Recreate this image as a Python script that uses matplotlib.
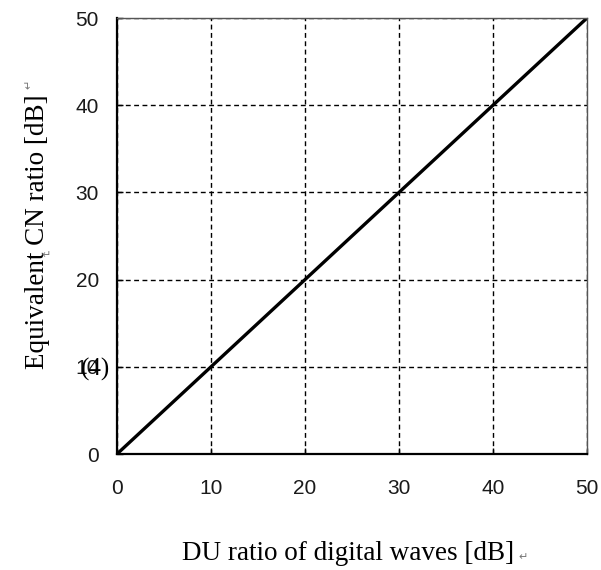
import matplotlib
matplotlib.use("Agg")
import matplotlib.pyplot as plt

du_ratio = [0, 10, 20, 30, 40, 50]
cn_ratio = [0, 10, 20, 30, 40, 50]
x_ticks = [0, 10, 20, 30, 40, 50]
y_ticks = [0, 10, 20, 30, 40, 50]

fig = plt.figure(figsize=(6.01, 5.70), dpi=100)
ax = fig.add_axes([117/601, 116/570, 470/601, 436/570])

ax.plot(du_ratio, cn_ratio, color='black', lw=2.4, solid_capstyle='butt')
ax.set_xlim(0, 50)
ax.set_ylim(0, 50)
ax.set_xticks(x_ticks)
ax.set_yticks(y_ticks)
ax.grid(True, color='black', linestyle=(0, (3.5, 2.5)), lw=1.0)
ax.tick_params(direction='in', length=4, width=1, labelsize=15,
               labelcolor='#1a1a1a')
ax.tick_params(axis='x', pad=18)
ax.tick_params(axis='y', pad=13)
for lab in ax.get_xticklabels() + ax.get_yticklabels():
    lab.set_family('Liberation Sans')
for s in ['left', 'bottom']:
    ax.spines[s].set_linewidth(1.6)
for s in ['top', 'right']:
    ax.spines[s].set_linewidth(1.0)
    ax.spines[s].set_color('#555555')

serif = ['Liberation Serif', 'DejaVu Sans']
fig.text(348/601, 1 - 553/570, 'DU ratio of digital waves [dB]', family=serif,
         fontsize=19.5, ha='center', va='center', color='black')
fig.text(523/601, 1 - 557/570, '↵', family=['DejaVu Sans'], fontsize=8,
         ha='center', va='center', color='#777777')
fig.text(38/601, 1 - 232/570, 'Equivalent CN ratio [dB]', family=serif,
         fontsize=19.5, ha='center', va='center', rotation=90, color='black')
fig.text(29/601, 1 - 84/570, '↵', family=['DejaVu Sans'], fontsize=8,
         ha='center', va='center', color='#777777', rotation=90)
fig.text(46/601, 1 - 255/570, '↵', family=['DejaVu Sans'], fontsize=8,
         ha='center', va='center', color='#777777')
fig.text(95/601, 1 - 369/570, '(4)', family=serif, fontsize=18,
         ha='center', va='center', color='black')

fig.savefig('out.png', dpi=100)
